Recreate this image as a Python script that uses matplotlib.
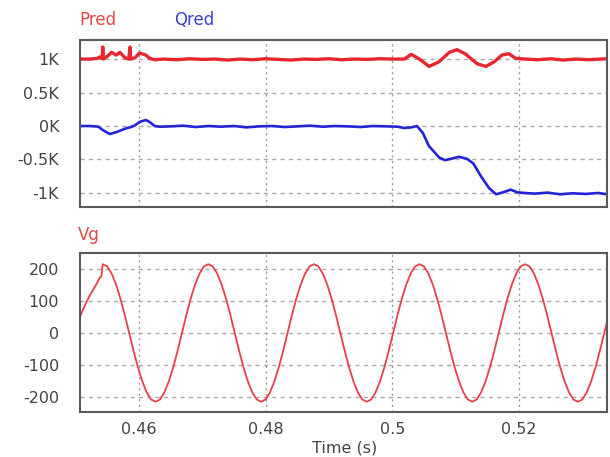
import numpy as np
import matplotlib
matplotlib.use("Agg")
import matplotlib.pyplot as plt

plt.rcParams['font.family'] = ['DejaVu Sans']

# ---- data ----
# Pred / Qred (W) against time (s)
p_time = [0.4507, 0.4523, 0.4534, 0.4538, 0.4542, 0.4543, 0.4544, 0.4550, 0.4557,
          0.4564, 0.4570, 0.4578, 0.4584, 0.4586, 0.4587, 0.4594, 0.4601, 0.4611,
          0.4617, 0.4625, 0.4640, 0.4660, 0.4680, 0.4700, 0.4720, 0.4740, 0.4760,
          0.4780, 0.4800, 0.4820, 0.4840, 0.4860, 0.4880, 0.4900, 0.4920, 0.4940,
          0.4960, 0.4980, 0.5000, 0.5019, 0.5030, 0.5043, 0.5058, 0.5074, 0.5090,
          0.5102, 0.5115, 0.5134, 0.5148, 0.5161, 0.5173, 0.5184, 0.5195, 0.5210,
          0.5230, 0.5250, 0.5270, 0.5290, 0.5310, 0.5339]
p_vals = [1000, 1000, 1010, 1030, 1010, 1180, 1000, 1040, 1100,
          1060, 1100, 1020, 1000, 1180, 1000, 1020, 1090, 1060,
          1010, 990, 1000, 990, 1005, 995, 1000, 985, 1000,
          990, 1005, 995, 985, 1000, 995, 1005, 990, 1000,
          995, 1005, 1000, 1000, 1070, 1000, 890, 960, 1100,
          1140, 1080, 930, 890, 960, 1060, 1080, 1010, 1000,
          990, 1005, 985, 1000, 990, 1005]

q_time = [0.4507, 0.4523, 0.4536, 0.4543, 0.4554, 0.4565, 0.4578, 0.4586, 0.4594,
          0.4601, 0.4611, 0.4617, 0.4625, 0.4633, 0.4650, 0.4670, 0.4690, 0.4710,
          0.4730, 0.4750, 0.4770, 0.4790, 0.4810, 0.4830, 0.4850, 0.4870, 0.4890,
          0.4910, 0.4930, 0.4950, 0.4970, 0.4990, 0.5008, 0.5019, 0.5030, 0.5039,
          0.5048, 0.5058, 0.5074, 0.5083, 0.5093, 0.5105, 0.5118, 0.5128, 0.5140,
          0.5153, 0.5164, 0.5175, 0.5187, 0.5197, 0.5208, 0.5225, 0.5245, 0.5265,
          0.5285, 0.5305, 0.5325, 0.5339]
q_vals = [0, 0, -10, -60, -120, -90, -40, -20, 10,
          60, 90, 60, 0, -10, -5, 5, -15, 0,
          -10, 0, -20, -5, 0, -15, -5, 5, -10,
          0, -5, -15, 0, -5, -10, -30, -20, 0,
          -100, -300, -470, -510, -490, -460, -490, -560, -750,
          -930, -1020, -990, -950, -990, -1000, -1010, -995, -1020,
          -1005, -1015, -1000, -1020]

# Vg (V): distorted start, then samples every 1/24 cycle from the peak at 0.4543 s
vg_head_t = [0.4507, 0.4515, 0.4523, 0.4534, 0.4538, 0.4541, 0.4542]
vg_head_v = [50, 88, 119, 156, 172, 178, 200]
vg_t0 = 0.4543
vg_dt = 0.016667 / 24
vg_body_v = [
    215, 208, 186, 152, 108, 56, 0, -56, -108, -152, -186, -208,
    -215, -208, -186, -152, -108, -56, 0, 56, 108, 152, 186, 208,
    215, 208, 186, 152, 108, 56, 0, -56, -108, -152, -186, -208,
    -215, -208, -186, -152, -108, -56, 0, 56, 108, 152, 186, 208,
    215, 208, 186, 152, 108, 56, 0, -56, -108, -152, -186, -208,
    -215, -208, -186, -152, -108, -56, 0, 56, 108, 152, 186, 208,
    215, 208, 186, 152, 108, 56, 0, -56, -108, -152, -186, -208,
    -215, -208, -186, -152, -108, -56, 0, 56, 108, 152, 186, 208,
    215, 208, 186, 152, 108, 56, 0, -56, -108, -152, -186, -208,
    -215, -208, -186, -152, -108, -56, 0, 56, 108, 152, 186, 208,
]

x_ticks = [0.46, 0.48, 0.5, 0.52]
x_ticklabels = ['0.46', '0.48', '0.5', '0.52']
top_ticks = [-1000, -500, 0, 500, 1000]
top_ticklabels = ['-1K', '-0.5K', '0K', '0.5K', '1K']
bot_ticks = [-200, -100, 0, 100, 200]
bot_ticklabels = ['-200', '-100', '0', '100', '200']

vg_t = vg_head_t + [vg_t0 + i * vg_dt for i in range(len(vg_body_v))]
vg_v = vg_head_v + vg_body_v

# ---- figure ----
fig = plt.figure(figsize=(6.10, 4.57), dpi=100)
ax1 = fig.add_axes([0.1311, 0.547, 0.864, 0.3655])
ax2 = fig.add_axes([0.1311, 0.0985, 0.864, 0.348])

red = '#e8262e'
blue = '#2424d6'
frame = '#5a5a5a'

ax1.plot(p_time, p_vals, color=red, lw=2.4, solid_joinstyle='round')
ax1.plot(q_time, q_vals, color=blue, lw=1.9, solid_joinstyle='round')
ax2.plot(vg_t, vg_v, color='#e8404a', lw=1.3)

for ax in (ax1, ax2):
    ax.set_xlim(0.4507, 0.5339)
    ax.set_xticks(x_ticks)
    ax.tick_params(length=0, labelsize=11.5, labelcolor='#444444')
    for s in ax.spines.values():
        s.set_color(frame)
        s.set_linewidth(1.5)
    ax.xaxis.grid(True, linestyle=(0, (1.5, 2.5)), color='#999999', lw=1)
    ax.yaxis.grid(True, linestyle=(0, (3, 3)), color='#aaaaaa', lw=1)
    ax.set_axisbelow(True)

ax1.set_ylim(-1210, 1285)
ax1.set_yticks(top_ticks)
ax1.set_yticklabels(top_ticklabels)
ax1.set_xticklabels([])
ax1.tick_params(axis='y', pad=15)

ax2.set_ylim(-247, 250)
ax2.set_yticks(bot_ticks)
ax2.set_yticklabels(bot_ticklabels)
ax2.set_xticklabels(x_ticklabels)
ax2.tick_params(axis='y', pad=15)
ax2.tick_params(axis='x', pad=7)

fig.text(0.130, 0.956, 'Pred', color='#e04848', fontsize=12, va='center')
fig.text(0.285, 0.956, 'Qred', color='#4040d0', fontsize=12, va='center')
fig.text(0.127, 0.486, 'Vg', color='#e04848', fontsize=12, va='center')
fig.text(0.565, 0.019, 'Time (s)', color='#444444', fontsize=11.5, ha='center', va='center')

fig.savefig('out.png', dpi=100)
